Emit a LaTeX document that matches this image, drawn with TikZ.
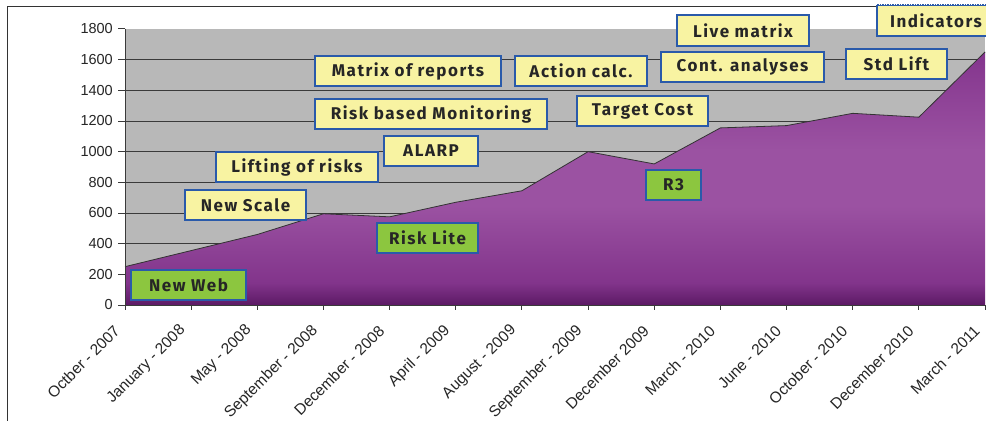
\documentclass[tikz,border=0pt]{standalone}
\usepackage{fontspec}
\setmainfont{Liberation Sans}
\newfontfamily\boxfont{Fira Sans}[LetterSpace=9.0]
\definecolor{plotgray}{HTML}{B8B8B8}
\definecolor{gridc}{HTML}{3A3A3A}
\definecolor{framec}{HTML}{333333}
\definecolor{boxyellow}{HTML}{F8F3A2}
\definecolor{boxgreen}{HTML}{8CC63F}
\definecolor{boxblue}{HTML}{2A5AAA}
\definecolor{ptop}{HTML}{7E2E88}
\definecolor{pmid}{HTML}{9B52A2}
\definecolor{plow}{HTML}{82348B}
\definecolor{pbot}{HTML}{5C1A65}
\pgfdeclareverticalshading{purplefill}{100bp}{color(0bp)=(pbot); color(25bp)=(pbot); color(29bp)=(plow); color(43bp)=(pmid); color(53bp)=(pmid); color(75bp)=(ptop); color(100bp)=(ptop)}
\begin{document}
\begin{tikzpicture}[x=1pt,y=-1pt,
  tag/.style={draw=boxblue, line width=1.8pt, font=\boxfont\bfseries\fontsize{17}{18}\selectfont,
              text=black!85, minimum height=30pt, inner sep=0pt},
  ytag/.style={tag, fill=boxyellow},
  gtag/.style={tag, fill=boxgreen},
  ylab/.style={font=\fontsize{14.5}{15}\selectfont, anchor=east, inner sep=0pt, text=black!85},
  xlab/.style={font=\fontsize{15.5}{16}\selectfont, anchor=east, rotate=45, inner sep=0pt, text=black!85},
  gridline/.style={draw=gridc, line width=0.9pt},
  axisline/.style={draw=gridc, line width=1pt}
  ]
\useasboundingbox (0,0) rectangle (986,421);
\fill[white] (0,0) rectangle (986,421);
% outer frame (top and left visible)
\draw[framec, line width=1pt] (986,6) coordinate (frtr) -- (7,6) coordinate (frtl) -- (7,421) coordinate (frbl);

\begin{scope}[shift={(125,305)}, x={(66.154pt,0pt)}, y={(0pt,0.153333pt)}]
  \fill[plotgray] (0,0) rectangle (13,1800);
  \foreach \v in {200,400,...,1600} \draw[gridline] (0,\v) -- (13,\v);
  % data points
  \coordinate (p0) at (0,250);
  \coordinate (p1) at (1,355);
  \coordinate (p2) at (2,460);
  \coordinate (p3) at (3,595);
  \coordinate (p4) at (4,575);
  \coordinate (p5) at (5,670);
  \coordinate (p6) at (6,745);
  \coordinate (p7) at (7,1000);
  \coordinate (p8) at (8,920);
  \coordinate (p9) at (9,1155);
  \coordinate (p10) at (10,1170);
  \coordinate (p11) at (11,1250);
  \coordinate (p12) at (12,1225);
  \coordinate (p13) at (13,1650);
  \coordinate (o) at (0,0);
  \coordinate (e) at (13,0);
  \coordinate (ytop) at (0,1800);
  \begin{scope}
    \clip (o) -- (p0) -- (p1) -- (p2) -- (p3) -- (p4) -- (p5) -- (p6) -- (p7) -- (p8)
          -- (p9) -- (p10) -- (p11) -- (p12) -- (p13) -- (e) -- cycle;
    \shade[shading=purplefill] (0,0) rectangle (13,1800);
  \end{scope}
  \draw[black!80, line width=0.8pt] (p0) -- (p1) -- (p2) -- (p3) -- (p4) -- (p5) -- (p6) -- (p7)
        -- (p8) -- (p9) -- (p10) -- (p11) -- (p12) -- (p13);
  \draw[axisline] (ytop) -- (o) -- (e);
  % y ticks and labels
  \foreach \v in {0,200,...,1800} {
    \draw[axisline] (0,\v) -- ++(-7pt,0pt);
    \node[xshift=-12pt, ylab] at (0,\v) {\v};
  }
  % x ticks and labels
  \foreach \i/\t in {0/Octber - 2007, 1/January - 2008, 2/May - 2008, 3/September - 2008,
                     4/December - 2008, 5/April - 2009, 6/August - 2009, 7/September - 2009,
                     8/December 2009, 9/March - 2010, 10/June - 2010, 11/October - 2010,
                     12/December 2010, 13/March - 2011} {
    \draw[axisline] (\i,0) -- ++(0pt,-5pt);
    \node[xshift=-8pt, yshift=-23pt, xlab] at (\i,0) {\t};
  }
\end{scope}

% milestone boxes
\begin{scope}
  \clip (0,0) rectangle (986,421);
  \node[gtag, minimum width=115pt] (nweb) at (188.5,285) {New Web};
  \node[ytag, minimum width=121pt] (nscale) at (245.5,205) {New Scale};
  \node[ytag, minimum width=162pt] (lift) at (297,167) {Lifting of risks};
  \node[ytag, minimum width=94pt] (alarp) at (431,151) {ALARP};
  \node[ytag, minimum width=232pt] (rbm) at (431,114) {Risk based Monitoring};
  \node[ytag, minimum width=186pt] (mor) at (408,71) {Matrix of reports};
  \node[ytag, minimum width=132pt] (act) at (581,71) {Action calc.};
  \node[ytag, minimum width=131pt] (tcost) at (642.5,111) {Target Cost};
  \node[gtag, minimum width=101pt] (rlite) at (427.5,238) {Risk Lite};
  \node[gtag, minimum width=55pt] (rthree) at (673.5,185) {R3};
  \node[ytag, minimum width=132pt, minimum height=31pt] (live) at (743,30.5) {Live matrix};
  \node[ytag, minimum width=163pt] (cont) at (742.5,67) {Cont. analyses};
  \node[ytag, minimum width=101pt] (std) at (896.5,64) {Std Lift};
  \node[ytag, minimum width=118pt, minimum height=31pt] (ind) at (936,20.5) {Indicators};
  \draw[white, line width=1pt, dash pattern=on 1pt off 1.5pt] (ind.north west) -- (ind.north east);
\end{scope}
\end{tikzpicture}
\end{document}
